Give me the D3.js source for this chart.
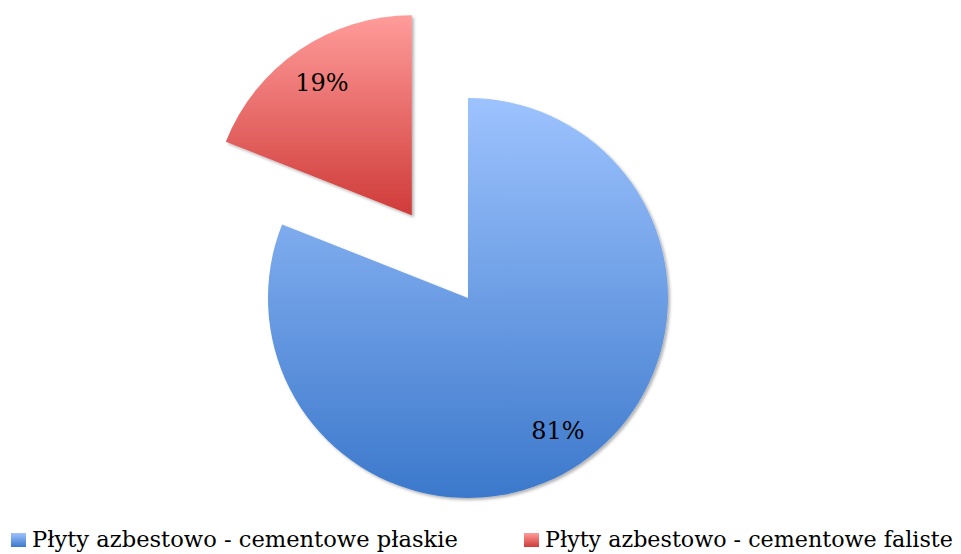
<!doctype html>
<html lang="pl">
<head>
<meta charset="utf-8">
<title>Płyty azbestowo-cementowe</title>
<style>
  body { margin: 0; background: #fff; }
  svg { display: block; }
  text { font-family: "DejaVu Serif", serif; fill: #000; }
</style>
</head>
<body>
<svg id="chart" width="961" height="554"></svg>
<script src="https://cdn.jsdelivr.net/npm/d3@7"></script>
<script>
  // data
  var categories = ["Płyty azbestowo - cementowe płaskie", "Płyty azbestowo - cementowe faliste"];
  var values = [81, 19];
  var labels = ["81%", "19%"];
  var exploded = [0, 100];
  var colorsTop = ["#9dc3fe", "#ff9c9a"];
  var colorsBottom = ["#3c78cb", "#cf3b39"];

  var svg = d3.select("#chart");
  var cx = 468, cy = 298, r = 200;

  var defs = svg.append("defs");
  categories.forEach(function(c, i) {
    var g = defs.append("linearGradient")
      .attr("id", "grad" + i)
      .attr("x1", 0).attr("y1", 0).attr("x2", 0).attr("y2", 1);
    g.append("stop").attr("offset", "0%").attr("stop-color", colorsTop[i]);
    g.append("stop").attr("offset", "100%").attr("stop-color", colorsBottom[i]);
  });
  var shadow = defs.append("filter").attr("id", "shadow")
    .attr("x", "-10%").attr("y", "-10%").attr("width", "130%").attr("height", "130%");
  shadow.append("feDropShadow")
    .attr("dx", 2).attr("dy", 2).attr("stdDeviation", 1.8)
    .attr("flood-color", "#000").attr("flood-opacity", 0.3);

  var pie = d3.pie().sort(null).value(function(d) { return d; });
  var arcs = pie(values);
  var arc = d3.arc().innerRadius(0).outerRadius(r);
  var labelArc = d3.arc().innerRadius(r * 0.8).outerRadius(r * 0.8);

  var slices = svg.append("g").attr("transform", "translate(" + cx + "," + cy + ")");

  var g = slices.selectAll("g.slice").data(arcs).enter().append("g")
    .attr("class", "slice")
    .attr("transform", function(d, i) {
      var mid = (d.startAngle + d.endAngle) / 2;
      return "translate(" + (Math.sin(mid) * exploded[i]) + "," + (-Math.cos(mid) * exploded[i]) + ")";
    });

  g.append("path")
    .attr("d", arc)
    .attr("fill", function(d, i) { return "url(#grad" + i + ")"; })
    .attr("filter", "url(#shadow)");

  g.append("text")
    .attr("transform", function(d) {
      var p = labelArc.centroid(d);
      return "translate(" + p[0] + "," + p[1] + ")";
    })
    .attr("text-anchor", "middle")
    .attr("dy", "0.35em")
    .style("font-size", "24px")
    .text(function(d, i) { return labels[i]; });

  // legend
  var legendX = [11, 524];
  var legendW = [426, 408];
  var legend = svg.append("g");
  var items = legend.selectAll("g").data(categories).enter().append("g")
    .attr("transform", function(d, i) { return "translate(" + legendX[i] + ",533)"; });
  items.append("rect")
    .attr("width", 15).attr("height", 14)
    .attr("fill", function(d, i) { return "url(#grad" + i + ")"; });
  items.append("text")
    .attr("x", 21).attr("y", 14)
    .style("font-size", "22px")
    .text(function(d) { return d; })
    .each(function(d, i) {
      // fit to the width seen in the picture
      var w = this.getComputedTextLength();
      d3.select(this).style("font-size", (22 * legendW[i] / w) + "px");
    });
</script>
</body>
</html>
